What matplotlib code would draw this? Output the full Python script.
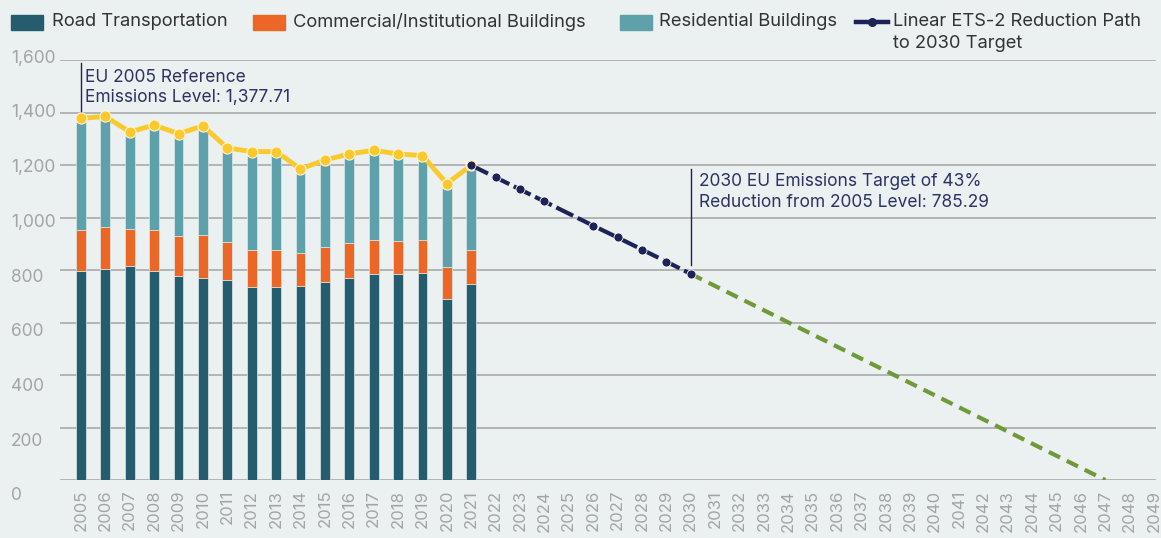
import matplotlib
matplotlib.use('Agg')
import matplotlib.pyplot as plt
from matplotlib.lines import Line2D
from matplotlib.patches import Rectangle
import matplotlib.transforms as mtransforms

plt.rcParams['font.family'] = ['Inter', 'DejaVu Sans']

# ---------------- data ----------------
years_hist = list(range(2005, 2022))
road = [795, 804, 814, 795, 777, 771, 763, 735, 735, 740, 754, 771, 786, 786, 790, 690, 748]
commercial = [157, 161, 142, 157, 153, 162, 142, 142, 142, 124, 134, 131, 130, 125, 126, 120, 129]
residential = [426, 420, 370, 400, 390, 416, 360, 374, 374, 321, 331, 340, 340, 331, 320, 319, 322]
total = [1377.71, 1385, 1326, 1352, 1319, 1349, 1265, 1251, 1251, 1185, 1219, 1242, 1256, 1242, 1236, 1129, 1199]

path_years = list(range(2021, 2031))
path_values = [1199, 1153, 1107, 1061, 1015, 969, 924, 878, 832, 785.29]
path_marker_idx = [0, 1, 2, 3, 5, 6, 7, 8, 9]

ext_years = [2030, 2047]
ext_values = [785.29, 0]

all_years = list(range(2005, 2050))
y_ticks = list(range(0, 1601, 200))
y_labels = ['0', '200', '400', '600', '800', '1,000', '1,200', '1,400', '1,600']

legend_labels = ['Road Transportation', 'Commercial/Institutional Buildings',
                 'Residential Buildings', 'Linear ETS-2 Reduction Path\nto 2030 Target']

ann1_text = 'EU 2005 Reference\nEmissions Level: 1,377.71'
ann2_text = '2030 EU Emissions Target of 43%\nReduction from 2005 Level: 785.29'

# ---------------- style ----------------
W, H = 1161, 538
BG = '#ebf0f0'
C_ROAD = '#265d6e'
C_COMM = '#ec6726'
C_RES = '#5ea1aa'
C_YEL = '#fbc82e'
C_NAVY = '#1c2356'
C_GREEN = '#6e9a3a'
C_GRID = '#a9abab'
C_TICK = '#a3a5a5'
C_ANN = '#2c3363'
C_LEG = '#333333'

fig = plt.figure(figsize=(W / 100, H / 100), dpi=100, facecolor=BG)
ax = fig.add_axes([60 / W, 1 - 480 / H, (1156 - 60) / W, 420 / H])
ax.set_facecolor(BG)

bw = 0.4
edge = dict(edgecolor='#dfe8ea', linewidth=0.5)
ax.bar(years_hist, road, bw, color=C_ROAD, zorder=2, **edge)
ax.bar(years_hist, commercial, bw, bottom=road, color=C_COMM, zorder=2, **edge)
bottoms = [r + c for r, c in zip(road, commercial)]
ax.bar(years_hist, residential, bw, bottom=bottoms, color=C_RES, zorder=2, **edge)

ax.plot(years_hist, total, color=C_YEL, lw=3.5, marker='o', ms=8,
        mfc=C_YEL, mec='#fff6d8', mew=0.8, zorder=4, solid_capstyle='round')

ax.plot(ext_years, ext_values, color=C_GREEN, lw=3, dashes=(3, 1.8), zorder=3)
ax.plot(path_years, path_values, color=C_NAVY, lw=3, dashes=(4.5, 1.2),
        marker='o', ms=6.5, mec='white', mew=0.6, markevery=path_marker_idx, zorder=5)

ax.set_xlim(2004.14, 2049.08)
ax.set_ylim(0, 1600)
ax.set_yticks(y_ticks)
ax.set_yticklabels([])
ax.set_xticks(all_years)
ax.set_xticklabels([str(y) for y in all_years], rotation=90, color=C_TICK, fontsize=12)
ax.tick_params(axis='x', length=0, pad=7)
ax.tick_params(axis='y', length=0)
ax.grid(axis='y', color=C_GRID, lw=1.2, zorder=0)
for s in ax.spines.values():
    s.set_visible(False)

# y tick labels (left aligned, as in the source)
blend = mtransforms.blended_transform_factory(fig.transFigure, ax.transData)
for v, lab in zip(y_ticks, y_labels):
    off = mtransforms.offset_copy(blend, fig=fig, y=-(16 - v * 0.01125), units='dots')
    ax.text(11 / W, v, lab, transform=off, ha='left', va='center',
            color=C_TICK, fontsize=12.5, clip_on=False)

# annotations
ax.plot([2005.0, 2005.0], [1398, 1589], color=C_NAVY, lw=1, zorder=3)
ax.text(2005.15, 1495, ann1_text, ha='left', va='center', color=C_ANN,
        fontsize=12.5, linespacing=1.25, zorder=6)
ax.plot([2030.0, 2030.0], [819, 1185], color=C_NAVY, lw=1, zorder=3)
ax.text(2030.33, 1097, ann2_text, ha='left', va='center', color=C_ANN,
        fontsize=12.5, linespacing=1.25, zorder=6)

# legend (manual)
def fx(x):
    return x / W

def fy(y):
    return 1 - y / H

LEG_FS = 13.2
patch_specs = [(11, 43, C_ROAD, 52), (253, 285, C_COMM, 293), (620, 652, C_RES, 659)]
for (x0, x1, col, tx), lab in zip(patch_specs, legend_labels[:3]):
    fig.add_artist(Rectangle((fx(x0), fy(30)), fx(x1 - x0), 15 / H,
                             transform=fig.transFigure, color=col))
    fig.text(fx(tx), fy(22), lab, ha='left', va='center', color=C_LEG, fontsize=LEG_FS)

fig.add_artist(Line2D([fx(856), fx(867)], [fy(22), fy(22)], transform=fig.transFigure,
                      color=C_NAVY, lw=3.2))
fig.add_artist(Line2D([fx(877), fx(888)], [fy(22), fy(22)], transform=fig.transFigure,
                      color=C_NAVY, lw=3.2))
fig.add_artist(Line2D([fx(872)], [fy(22)], transform=fig.transFigure,
                      color=C_NAVY, marker='o', ms=5.5, lw=0))
l1, l2 = legend_labels[3].split('\n')
fig.text(fx(893), fy(22), l1, ha='left', va='center', color=C_LEG, fontsize=LEG_FS)
fig.text(fx(893), fy(43), l2, ha='left', va='center', color=C_LEG, fontsize=LEG_FS)

fig.savefig('out.png', dpi=100, facecolor=BG)
